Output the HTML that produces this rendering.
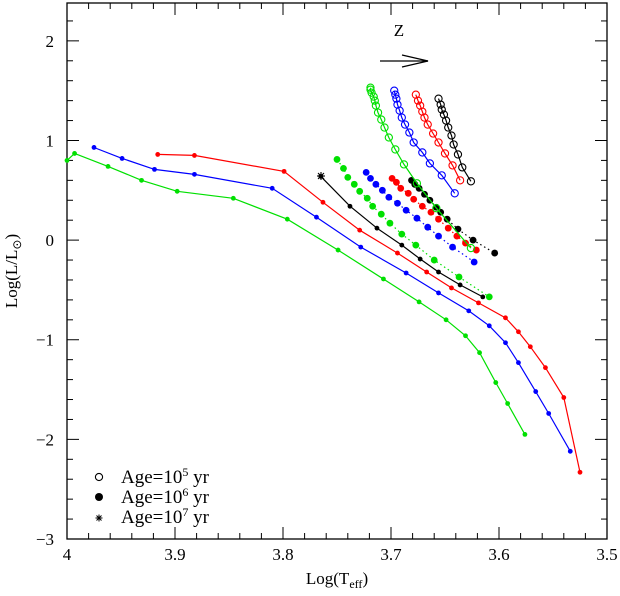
<!DOCTYPE html>
<html><head><meta charset="utf-8"><style>
html,body{margin:0;padding:0;background:#fff;}
svg{display:block;font-family:"Liberation Serif",serif;}
</style></head><body>
<svg id="chart" width="620" height="596" viewBox="0 0 620 596"></svg>
<script>
// ---------- data ----------
const xTickLabels=[4,3.9,3.8,3.7,3.6,3.5];
const yTickLabels=[-3,-2,-1,0,1,2];
// long tracks (small dots, solid)
const greenLongT=[4.000,3.993,3.962,3.931,3.898,3.846,3.796,3.749,3.707,3.674,3.649,3.631,3.618,3.603,3.592,3.576];
const greenLongL=[0.80,0.87,0.74,0.60,0.49,0.42,0.21,-0.10,-0.39,-0.62,-0.80,-0.96,-1.13,-1.43,-1.64,-1.95];
const blueLongT=[3.975,3.949,3.919,3.882,3.810,3.769,3.728,3.686,3.656,3.628,3.609,3.594,3.582,3.566,3.554,3.534];
const blueLongL=[0.93,0.82,0.71,0.66,0.52,0.23,-0.07,-0.33,-0.53,-0.71,-0.86,-1.03,-1.23,-1.52,-1.74,-2.12];
const redLongT=[3.916,3.882,3.799,3.763,3.729,3.694,3.667,3.644,3.619,3.594,3.582,3.571,3.557,3.540,3.525];
const redLongL=[0.86,0.85,0.69,0.38,0.10,-0.13,-0.32,-0.48,-0.63,-0.78,-0.92,-1.07,-1.28,-1.58,-2.33];
const blackLongT=[3.765,3.738,3.713,3.690,3.673,3.656,3.636,3.615];
const blackLongL=[0.64,0.34,0.12,-0.05,-0.19,-0.32,-0.45,-0.57];
// age 1e6 (filled, dotted)
const greenMidT=[3.750,3.744,3.740,3.734,3.729,3.722,3.717,3.709,3.701,3.690,3.677,3.660,3.637,3.609];
const greenMidL=[0.81,0.72,0.63,0.56,0.49,0.42,0.34,0.26,0.17,0.06,-0.05,-0.20,-0.37,-0.57];
const blueMidT=[3.723,3.719,3.714,3.708,3.702,3.694,3.686,3.676,3.666,3.656,3.643,3.623];
const blueMidL=[0.68,0.62,0.56,0.50,0.43,0.37,0.30,0.22,0.13,0.04,-0.07,-0.22];
const redMidT=[3.699,3.695,3.691,3.684,3.679,3.671,3.663,3.656,3.647,3.639,3.631,3.621];
const redMidL=[0.62,0.58,0.52,0.47,0.41,0.34,0.28,0.21,0.12,0.04,-0.03,-0.10];
const blackMidT=[3.681,3.678,3.674,3.669,3.664,3.658,3.654,3.648,3.638,3.624,3.604];
const blackMidL=[0.60,0.56,0.52,0.46,0.40,0.33,0.28,0.21,0.11,0.00,-0.13];
// age 1e5 (open circles)
const greenYoungT=[3.719,3.719,3.718,3.716,3.715,3.714,3.712,3.709,3.706,3.702,3.696,3.688,3.676,3.658,3.626];
const greenYoungL=[1.53,1.51,1.48,1.44,1.40,1.35,1.28,1.21,1.13,1.03,0.91,0.76,0.57,0.32,-0.08];
const blueYoungT=[3.697,3.696,3.695,3.694,3.692,3.690,3.687,3.683,3.679,3.671,3.664,3.653,3.641];
const blueYoungL=[1.50,1.46,1.42,1.36,1.30,1.23,1.16,1.08,0.98,0.88,0.77,0.65,0.47];
const redYoungT=[3.677,3.675,3.673,3.671,3.669,3.666,3.661,3.656,3.650,3.643,3.636];
const redYoungL=[1.46,1.40,1.35,1.29,1.23,1.16,1.07,0.98,0.87,0.75,0.60];
const blackYoungT=[3.656,3.654,3.653,3.651,3.649,3.647,3.644,3.642,3.638,3.634,3.626];
const blackYoungL=[1.42,1.36,1.31,1.26,1.20,1.13,1.05,0.96,0.86,0.73,0.59];

// ---------- scales ----------
const X0=67,X1=607,Y0=3,Y1=539;
const TMAX=4,TMIN=3.5,LMIN=-3,LMAX=2.38;
function sx(t){return X0+(TMAX-t)/(TMAX-TMIN)*(X1-X0);}
function sy(l){return Y1-(l-LMIN)/(LMAX-LMIN)*(Y1-Y0);}

const NS='http://www.w3.org/2000/svg';
const svg=document.getElementById('chart');
function mk(tag,attrs,parent){const e=document.createElementNS(NS,tag);for(const k in attrs)e.setAttribute(k,attrs[k]);(parent||svg).appendChild(e);return e;}

// frame
const frame=mk('rect',{x:X0,y:Y0,width:X1-X0,height:Y1-Y0,fill:'none',stroke:'#000','stroke-width':1.3});



// ticks
const tickG=mk('g',{stroke:'#000','stroke-width':1});


for(let i=0;i<=25;i++){
  const t=4-i*0.02;const x=sx(t);const len=(i%5===0)?12:6;
  mk('line',{x1:x,y1:Y1,x2:x,y2:Y1-len},tickG);
  mk('line',{x1:x,y1:Y0,x2:x,y2:Y0+len},tickG);
}
for(let i=0;i<=26;i++){
  const l=-3+i*0.2;if(l>LMAX)break;const y=sy(l);const len=(i%5===0)?12:6;
  mk('line',{x1:X0,y1:y,x2:X0+len,y2:y},tickG);
  mk('line',{x1:X1,y1:y,x2:X1-len,y2:y},tickG);
}
xTickLabels.forEach(v=>{
  const tx=mk('text',{x:sx(v),y:Y1+21,'font-size':17,'text-anchor':'middle'});
  tx.textContent=String(v);
  
  
});
yTickLabels.forEach(v=>{
  const tx=mk('text',{x:54,y:sy(v)+6,'font-size':17,'text-anchor':'end'});
  tx.textContent=v<0?'\u2212'+Math.abs(v):String(v);
  
  
});

// series
function series(T,L,color,kind,name){
  const g=mk('g',{});
  
  
  const pts=T.map((t,i)=>sx(t).toFixed(1)+','+sy(L[i]).toFixed(1)).join(' ');
  const pl={points:pts,fill:'none',stroke:color,'stroke-width':1.2};
  if(kind==='mid')pl['stroke-dasharray']='1.5,3';
  mk('polyline',pl,g);
  T.forEach((t,i)=>{
    let c;
    if(kind==='young')c=mk('circle',{cx:sx(t),cy:sy(L[i]),r:3.6,fill:'none',stroke:color,'stroke-width':1.1},g);
    else if(kind==='mid')c=mk('circle',{cx:sx(t),cy:sy(L[i]),r:3.4,fill:color},g);
    else c=mk('circle',{cx:sx(t),cy:sy(L[i]),r:2.4,fill:color},g);
    
    
  });
}
series(greenLongT,greenLongL,'#00e000','long','green-track-long');
series(blueLongT,blueLongL,'#0000ff','long','blue-track-long');
series(redLongT,redLongL,'#ff0000','long','red-track-long');
series(blackLongT,blackLongL,'#000','long','black-track-long');
series(greenMidT,greenMidL,'#00e000','mid','green-track-age6');
series(blueMidT,blueMidL,'#0000ff','mid','blue-track-age6');
series(redMidT,redMidL,'#ff0000','mid','red-track-age6');
series(blackMidT,blackMidL,'#000','mid','black-track-age6');
series(greenYoungT,greenYoungL,'#00e000','young','green-track-age5');
series(blueYoungT,blueYoungL,'#0000ff','young','blue-track-age5');
series(redYoungT,redYoungL,'#ff0000','young','red-track-age5');
series(blackYoungT,blackYoungL,'#000','young','black-track-age5');
</script>
<svg width="620" height="596" style="position:absolute;left:0;top:0;font-family:'Liberation Serif',serif">
  <g stroke="#000" stroke-width="1.1">
    <line x1="317" y1="176" x2="325" y2="176"/><line x1="321" y1="172" x2="321" y2="180"/>
    <line x1="318" y1="173" x2="324" y2="179"/><line x1="324" y1="173" x2="318" y2="179"/>
  </g>
  <text x="399" y="36" font-size="17" text-anchor="middle">Z</text>
  <g stroke="#000" stroke-width="1.2" fill="none">
    <line x1="380" y1="61" x2="428" y2="61"/>
    <polyline points="402,55 428,61 402,67"/>
  </g>
  <g font-size="19">
    <circle cx="99" cy="477" r="3.6" fill="none" stroke="#000" stroke-width="1.1"/>
    <text x="121" y="483">Age=10<tspan font-size="12" dy="-7">5</tspan><tspan dy="7"> yr</tspan></text>
    <circle cx="99" cy="497" r="4" fill="#000"/>
    <text x="121" y="503">Age=10<tspan font-size="12" dy="-7">6</tspan><tspan dy="7"> yr</tspan></text>
    <g stroke="#000" stroke-width="1">
      <line x1="95.5" y1="518" x2="102.5" y2="518"/><line x1="99" y1="514.5" x2="99" y2="521.5"/>
      <line x1="96.5" y1="515.5" x2="101.5" y2="520.5"/><line x1="101.5" y1="515.5" x2="96.5" y2="520.5"/>
    </g>
    <text x="121" y="523">Age=10<tspan font-size="12" dy="-7">7</tspan><tspan dy="7"> yr</tspan></text>
  </g>
  <text x="337" y="584" font-size="17" text-anchor="middle">Log(T<tspan font-size="12" dy="4">eff</tspan><tspan dy="-4">)</tspan></text>
  <text transform="translate(17,271) rotate(-90)" font-size="17" text-anchor="middle">Log(L/L<tspan font-size="12" dy="4">⊙</tspan><tspan dy="-4">)</tspan></text>
</svg>
</body></html>
